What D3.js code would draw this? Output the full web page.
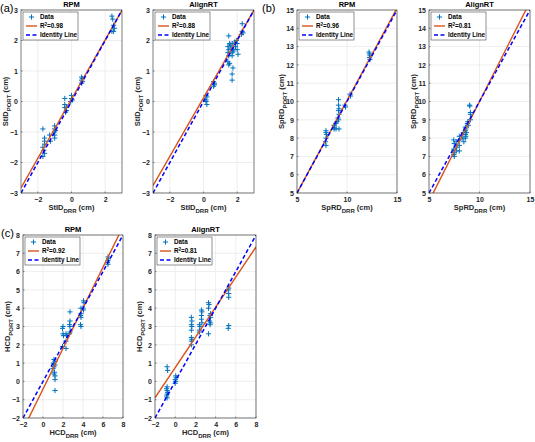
<!DOCTYPE html>
<html><head><meta charset="utf-8">
<script src="https://cdn.jsdelivr.net/npm/d3@7"></script>
<style>
html,body{margin:0;padding:0;background:#fff;}
svg{display:block;}
text{font-family:"Liberation Sans",Arial,sans-serif;}
</style></head>
<body>
<script>
// ---------- DATA ----------
const panelTitles = ["RPM","AlignRT","RPM","AlignRT","RPM","AlignRT"];
const panelLetters = ["(a)","(b)","(c)"];
const r2Labels = ["0.98","0.88","0.96","0.81","0.92","0.81"];
const fitSlopes = [0.97, 0.96, 1.01, 1.09, 1.11, 0.825];
const fitIntercepts = [0.08, 0.12, -0.05, -0.9, -0.42, 0.75];
const varNames = ["StID","StID","SpRD","SpRD","HCD","HCD"];
const domainsA = [-3, 3];
const domainsB = [5, 15];
const domainsC = [-2, 8];
const xTicksA = [-2, 0, 2];
const yTicksA = [-3, -2, -1, 0, 1, 2, 3];
const xTicksB = [5, 10, 15];
const yTicksB = [5, 6, 7, 8, 9, 10, 11, 12, 13, 14, 15];
const xTicksC = [-2, 0, 2, 4, 6, 8];
const yTicksC = [-2, -1, 0, 1, 2, 3, 4, 5, 6, 7, 8];

const aRpmX = [2.4,2.45,2.5,2.55,2.4,2.5, 0.6,0.6,0.65,0.65,0.6, 0,0,-0.05,0.05, -0.4,-0.4,-0.4,-0.3,-0.3,-0.35, -1,-1,-1,-1,-1,-0.95, -1.3,-1.25, -1.7,-1.7,-1.7,-1.6,-1.6,-1.6,-1.65,-1.6];
const aRpmY = [2.8,2.7,2.5,2.4,2.3,2.3, 0.8,0.7,0.75,0.65,0.6, 0.2,0.1,0.0,0.05, 0.1,-0.1,-0.2,-0.2,-0.3,-0.35, -0.8,-0.9,-1.0,-1.1,-1.2,-0.95, -1.1,-1.3, -0.9,-1.5,-1.8,-1.2,-1.3,-1.4,-1.6,-1.7];

const aAlignX = [0.15,0.2,0.15,0.2,0.15, 0.6,0.65,0.6,0.65, 1.5,1.45,1.5,1.45,1.5,1.45,1.5,1.55, 1.7,1.65,1.7,1.75,1.7,1.75,1.7,1.7, 1.85,1.9,1.8,1.95,2.0,2.05,2.0, 2.3,2.3,2.25,2.35, 1.6,1.55];
const aAlignY = [0.2,0.15,0.0,-0.1,0.05, 0.65,0.6,0.5,0.55, 2.15,1.8,1.7,1.6,1.5,1.3,1.2,1.25, 1.9,1.75,1.6,1.65,1.5,1.1,0.9,0.7, 1.95,1.8,1.7,2.0,1.7,1.55,1.9, 2.55,2.3,2.2,2.25, 1.85,1.9];

const bRpmX = [12.2,12.25,12.3,12.25,12.3, 10.3,10.35, 9.8,9.85, 9.15,9.15,9.2,9.15,9.2,9.1,9.15,9.0, 8.9,8.9,9.2, 8.7,8.75,8.7, 7.9,7.9,7.95,7.9,7.85,7.9];
const bRpmY = [12.7,12.6,12.5,12.4,12.3, 10.4,10.3, 9.8,9.7, 10.1,9.8,9.6,9.5,9.3,9.1,9.0,8.9, 8.8,8.5,8.5, 8.7,8.6,8.5, 8.4,8.3,8.2,8.0,7.8,7.6];

const bAlignX = [9.0,9.05, 9.1,9.1,9.1, 8.85,8.8,8.9, 8.6,8.65,8.6,8.7,8.6,8.65,8.6, 8.4,8.35,8.45, 8.0,8.05,8.0,8.0, 7.7,7.75,7.7, 7.45,7.5,7.45,7.5,7.45,7.5];
const bAlignY = [9.8,9.75, 9.4,9.3,9.0, 8.9,8.8,8.7, 8.6,8.5,8.4,8.3,8.2,8.1,8.0, 8.3,8.0,7.8, 8.1,7.9,7.6,7.3, 7.8,7.5,7.3, 7.9,7.7,7.4,7.2,7.1,7.0];

const cRpmX = [6.5,6.55,6.5,6.45,6.5, 4.05,4.1,4.0,4.05, 3.8,3.8,3.75,3.8,3.75,3.8, 2.7,2.7,2.65,2.7,2.7,2.65, 2.3,2.35,2.3,2.3, 2.0,1.95,2.0,2.05,1.95, 1.1,1.2,1.05,1.2,1.1,1.0,1.15,1.1,1.2,1.2,1.2];
const cRpmY = [6.8,6.7,6.6,6.5,6.4, 4.4,4.3,4.0,3.9, 4.0,3.7,3.6,3.5,3.1,3.0, 3.8,3.3,3.1,3.0,2.7,2.6, 2.6,2.5,2.2,1.8, 3.0,2.9,2.6,2.5,1.9, 1.2,1.1,1.0,0.9,0.8,0.7,0.5,0.4,0.3,0.1,-0.5];

const cAlignX = [5.3,5.25,5.3,5.3,5.3,5.25, 3.5,3.45,3.5,3.4,3.5,3.45, 3.3,3.35,3.3,3.3, 2.6,2.65,2.6,2.6,2.65, 2.4,2.45,2.4,2.4, 1.6,1.65,1.6,1.65,1.6,1.6,1.65,1.6,1.6, 0.05,0.1,0.0,0.05,0.0, -0.8,-0.75,-0.8,-0.85,-0.8,-0.75,-0.8,-0.85,-0.8];
const cAlignY = [5.1,5.0,4.8,4.6,3.05,2.9, 3.7,3.6,3.5,3.3,3.2,3.1, 4.3,4.2,4.0,2.6, 3.9,3.8,3.6,3.4,3.2, 3.1,3.0,2.8,2.7, 3.5,3.3,3.1,3.0,2.8,2.4,2.3,2.2,2.0, 0.3,0.2,0.1,0.0,-0.1, 0.8,0.6,-0.3,-0.4,-0.5,-0.6,-0.7,-0.8,-0.9];

// ---------- LAYOUT ----------
const panelBoxes = [
  [21,10,101,183],[153,10,101,183],[297,10,100,183],[429,10,101,183],
  [23,235,100,183],[155,235,101,183]
];
const panelDomains = [domainsA,domainsA,domainsB,domainsB,domainsC,domainsC];
const panelXTicks = [xTicksA,xTicksA,xTicksB,xTicksB,xTicksC,xTicksC];
const panelYTicks = [yTicksA,yTicksA,yTicksB,yTicksB,yTicksC,yTicksC];
const panelXs = [aRpmX,aAlignX,bRpmX,bAlignX,cRpmX,cAlignX];
const panelYs = [aRpmY,aAlignY,bRpmY,bAlignY,cRpmY,cAlignY];

const W = 535, H = 442;
const svg = d3.select("body").append("svg").attr("width",W).attr("height",H);

const blue = "#0072BD", red = "#D95319", idBlue = "#0000FF", axCol = "#262626";

panelBoxes.forEach((b, i) => {
  const [L, T, w, h] = b;
  const dom = panelDomains[i];
  const x = d3.scaleLinear().domain(dom).range([L, L + w]);
  const y = d3.scaleLinear().domain(dom).range([T + h, T]);
  const g = svg.append("g");
  const clipId = "clip" + i;
  svg.append("clipPath").attr("id", clipId).append("rect").attr("x", L).attr("y", T).attr("width", w).attr("height", h);

  g.append("rect").attr("x", L).attr("y", T).attr("width", w).attr("height", h).attr("fill", "#fff");
  g.append("g").selectAll("line").data(panelXTicks[i]).join("line")
    .attr("x1", d => x(d)).attr("x2", d => x(d)).attr("y1", T).attr("y2", T + h)
    .attr("stroke", "#e3e3e3").attr("stroke-width", 0.6);
  g.append("g").selectAll("line").data(panelYTicks[i]).join("line")
    .attr("y1", d => y(d)).attr("y2", d => y(d)).attr("x1", L).attr("x2", L + w)
    .attr("stroke", "#e3e3e3").attr("stroke-width", 0.6);

  const pts = panelXs[i].map((v, k) => [v, panelYs[i][k]]);
  const ms = 2.6;
  g.append("g").attr("clip-path", `url(#${clipId})`).selectAll("path").data(pts).join("path")
    .attr("d", d => `M${x(d[0]) - ms},${y(d[1])}H${x(d[0]) + ms}M${x(d[0])},${y(d[1]) - ms}V${y(d[1]) + ms}`)
    .attr("stroke", blue).attr("stroke-width", 1).attr("fill", "none");

  const lg = g.append("g").attr("clip-path", `url(#${clipId})`);
  lg.append("line")
    .attr("x1", x(dom[0])).attr("y1", y(fitSlopes[i] * dom[0] + fitIntercepts[i]))
    .attr("x2", x(dom[1])).attr("y2", y(fitSlopes[i] * dom[1] + fitIntercepts[i]))
    .attr("stroke", red).attr("stroke-width", 1.4);
  lg.append("line")
    .attr("x1", x(dom[0])).attr("y1", y(dom[0])).attr("x2", x(dom[1])).attr("y2", y(dom[1]))
    .attr("stroke", idBlue).attr("stroke-width", 1.5).attr("stroke-dasharray", "4,2.5");

  const xa = d3.axisBottom(x).tickValues(panelXTicks[i]).tickSize(0).tickPadding(4).tickFormat(d3.format("d"));
  const ya = d3.axisLeft(y).tickValues(panelYTicks[i]).tickSize(0).tickPadding(3).tickFormat(d3.format("d"));
  const gx = g.append("g").attr("transform", `translate(0,${T + h})`).call(xa);
  const gy = g.append("g").attr("transform", `translate(${L},0)`).call(ya);
  [gx, gy].forEach(a => {
    a.select(".domain").remove();
    a.selectAll("text").attr("font-size", 7).attr("font-weight", "bold").attr("fill", axCol)
      .attr("font-family", "Liberation Sans, Arial, sans-serif");
  });
  g.append("g").selectAll("line").data(panelXTicks[i]).join("line")
    .attr("x1", d => x(d)).attr("x2", d => x(d)).attr("y1", T + h).attr("y2", T + h - 1.5)
    .attr("stroke", axCol).attr("stroke-width", 0.5);
  g.append("g").selectAll("line").data(panelYTicks[i]).join("line")
    .attr("y1", d => y(d)).attr("y2", d => y(d)).attr("x1", L).attr("x2", L + 1.5)
    .attr("stroke", axCol).attr("stroke-width", 0.5);
  g.append("rect").attr("x", L).attr("y", T).attr("width", w).attr("height", h)
    .attr("fill", "none").attr("stroke", axCol).attr("stroke-width", 0.6);

  g.append("text").attr("x", L + w / 2).attr("y", T - 3).attr("text-anchor", "middle")
    .attr("font-size", 7.5).attr("font-weight", "bold").attr("fill", "#000").text(panelTitles[i]);

  const xl = g.append("text").attr("x", L + w / 2).attr("y", T + h + 17).attr("text-anchor", "middle")
    .attr("font-size", 7.5).attr("font-weight", "bold").attr("fill", axCol);
  xl.append("tspan").text(varNames[i]);
  xl.append("tspan").attr("font-size", 6).attr("dy", 2.5).text("DRR");
  xl.append("tspan").attr("dy", -2.5).text(" (cm)");

  const ylx = L - 13;
  const yl = g.append("text").attr("transform", `translate(${ylx},${T + h / 2}) rotate(-90)`)
    .attr("text-anchor", "middle").attr("font-size", 7.5).attr("font-weight", "bold").attr("fill", axCol);
  yl.append("tspan").text(varNames[i]);
  yl.append("tspan").attr("font-size", 6).attr("dy", 2.5).text("PORT");
  yl.append("tspan").attr("dy", -2.5).text(" (cm)");

  const lx = L + 2, ly = T + 2, lw = 55, lh = 28;
  const leg = g.append("g");
  leg.append("rect").attr("x", lx).attr("y", ly).attr("width", lw).attr("height", lh)
    .attr("fill", "#fff").attr("stroke", axCol).attr("stroke-width", 0.5);
  const rows = [ly + 5, ly + 14, ly + 23];
  leg.append("path").attr("d", `M${lx + 8.5},${rows[0] - 2.6}V${rows[0] + 2.6}M${lx + 5.9},${rows[0]}H${lx + 11.1}`)
    .attr("stroke", blue).attr("stroke-width", 1);
  leg.append("line").attr("x1", lx + 3).attr("x2", lx + 14).attr("y1", rows[1]).attr("y2", rows[1])
    .attr("stroke", red).attr("stroke-width", 1.4);
  leg.append("line").attr("x1", lx + 3).attr("x2", lx + 14).attr("y1", rows[2]).attr("y2", rows[2])
    .attr("stroke", idBlue).attr("stroke-width", 1.5).attr("stroke-dasharray", "4,2.5");
  const tx = lx + 17;
  leg.append("text").attr("x", tx).attr("y", rows[0] + 2.3).attr("font-size", 6.3).attr("font-weight", "bold").text("Data");
  const r2 = leg.append("text").attr("x", tx).attr("y", rows[1] + 2.3).attr("font-size", 6.3).attr("font-weight", "bold");
  r2.append("tspan").text("R");
  r2.append("tspan").attr("font-size", 4.5).attr("dy", -2.5).text("2");
  r2.append("tspan").attr("dy", 2.5).text("=" + r2Labels[i]);
  leg.append("text").attr("x", tx).attr("y", rows[2] + 2.3).attr("font-size", 6.3).attr("font-weight", "bold").text("Identity Line");
});

const letterPos = [[0, 12], [262, 12], [1, 237]];
panelLetters.forEach((t, i) => {
  svg.append("text").attr("x", letterPos[i][0]).attr("y", letterPos[i][1])
    .attr("font-family", "Liberation Serif, Times New Roman, serif").attr("font-size", 11).attr("fill", "#000").text(t);
});
</script>
</body></html>
